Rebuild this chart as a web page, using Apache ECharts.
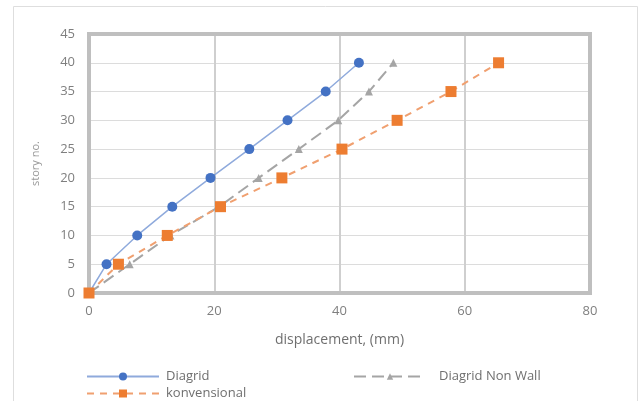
<!DOCTYPE html>
<html>
<head>
<meta charset="utf-8">
<script src="https://cdn.jsdelivr.net/npm/echarts@6/dist/echarts.min.js"></script>
<style>html,body{margin:0;padding:0;background:#fff}#c{width:642px;height:401px}</style>
</head>
<body>
<div id="c"></div>
<script>
var storyLevels = [0, 5, 10, 15, 20, 25, 30, 35, 40];
var diagridDisp = [0, 2.8, 7.7, 13.3, 19.4, 25.6, 31.7, 37.8, 43.1];
var nonWallDisp = [0, 6.5, 13.0, 20.8, 27.1, 33.5, 39.8, 44.7, 48.6];
var konvDisp = [0, 4.7, 12.5, 21.0, 30.8, 40.4, 49.2, 57.8, 65.4];
var seriesNames = ['Diagrid', 'Diagrid Non Wall', 'konvensional'];

function pairs(xs) { return xs.map(function (x, i) { return [x, storyLevels[i]]; }); }

var chart = echarts.init(document.getElementById('c'));
var txt = '#7f7f7f';
var font = 'Open Sans';
var legText = { color: '#6f6f6f', fontSize: 13, fontFamily: font, padding: [0, 0, 0, 2] };
chart.setOption({
  animation: false,
  backgroundColor: '#fff',
  graphic: [{
    type: 'rect', shape: { x: 13.5, y: 6.5, width: 624, height: 400 },
    style: { fill: 'none', stroke: '#dedede', lineWidth: 1 }, z: -10
  }, {
    type: 'rect', shape: { x: 89, y: 34, width: 501, height: 259 },
    style: { fill: 'none', stroke: '#bfbfbf', lineWidth: 4 }, z: 1
  }],
  grid: { left: 89, right: 52, top: 34, bottom: 108 },
  xAxis: {
    type: 'value', min: 0, max: 80, interval: 20,
    name: 'displacement, (mm)', nameLocation: 'middle', nameGap: 40,
    nameTextStyle: { color: '#6f6f6f', fontSize: 14, fontFamily: font },
    axisLine: { show: false }, axisTick: { show: false },
    axisLabel: { color: txt, fontSize: 13, fontFamily: font, margin: 12 },
    splitLine: { lineStyle: { color: '#cfcfcf', width: 2 } }
  },
  yAxis: {
    type: 'value', min: 0, max: 45, interval: 5,
    name: 'story no.', nameLocation: 'middle', nameGap: 48, nameRotate: 90,
    nameTextStyle: { color: '#9a9a9a', fontSize: 11, fontFamily: font },
    axisLine: { show: false }, axisTick: { show: false },
    axisLabel: { color: txt, fontSize: 13, fontFamily: font, margin: 14 },
    splitLine: { lineStyle: { color: '#dcdcdc', width: 1 } }
  },
  legend: [{
    data: [seriesNames[0]], left: 86, top: 370, padding: 0,
    itemWidth: 72, itemHeight: 10, textStyle: legText
  }, {
    data: [seriesNames[2]], left: 86, top: 387, padding: 0,
    itemWidth: 72, itemHeight: 10, textStyle: legText
  }, {
    data: [seriesNames[1]], left: 353, top: 370, padding: 0,
    itemWidth: 72, itemHeight: 8,
    textStyle: { color: '#6f6f6f', fontSize: 13, fontFamily: font, padding: [0, 0, 0, 8] }
  }],
  series: [{
    name: seriesNames[0], type: 'line', data: pairs(diagridDisp),
    symbol: 'circle', symbolSize: 10,
    itemStyle: { color: '#4472c4' }, lineStyle: { color: '#8faadc', width: 1.5 }, z: 3
  }, {
    name: seriesNames[1], type: 'line', data: pairs(nonWallDisp),
    symbol: 'triangle', symbolSize: 8,
    itemStyle: { color: '#a5a5a5' }, lineStyle: { color: '#a5a5a5', width: 2, type: [12, 6] }, z: 2
  }, {
    name: seriesNames[2], type: 'line', data: pairs(konvDisp),
    symbol: 'rect', symbolSize: 11,
    itemStyle: { color: '#ed7d31' }, lineStyle: { color: '#f0a070', width: 2, type: [7, 6] }, z: 4
  }]
});
</script>
</body>
</html>
